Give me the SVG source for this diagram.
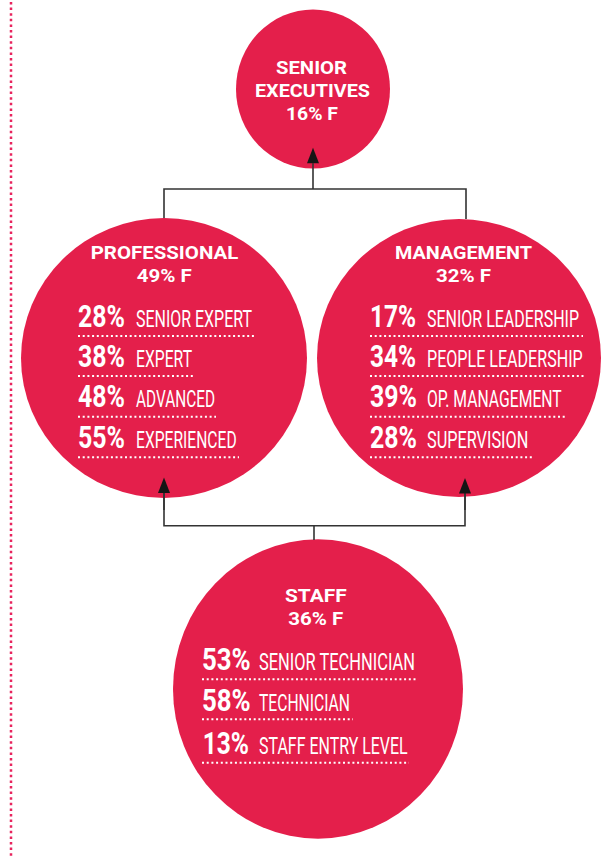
<svg xmlns="http://www.w3.org/2000/svg" width="601" height="856" viewBox="0 0 601 856">
<style>
.node{fill:#E41F4B}
.title{font-family:Roboto,"Liberation Sans",sans-serif;font-weight:700;font-size:18.5px;fill:#fff}
.num{font-family:Roboto,"Liberation Sans",sans-serif;font-weight:700;font-size:30.5px;fill:#fff}
.lab{font-family:Roboto,"Liberation Sans",sans-serif;font-weight:400;font-size:23.5px;fill:#fff}
.dots{stroke:#fff;stroke-width:2;stroke-dasharray:2 2.7;fill:none}
.conn{stroke:#333;stroke-width:1.6;fill:none}
.arr{stroke:#333;stroke-width:1.6;fill:none;marker-end:url(#ah)}
</style>
<defs>
<marker id="ah" markerUnits="userSpaceOnUse" markerWidth="16" markerHeight="12" refX="0" refY="6" orient="auto" overflow="visible">
<path d="M0,0 L15.5,6 L0,12 z" fill="#151515"/>
</marker>
</defs>
<line x1="11" y1="2" x2="11" y2="856" stroke="#E8245E" stroke-width="2.5" stroke-dasharray="2.5 3.1"/>
<g id="senior-executives">
<ellipse class="node" cx="313" cy="89" rx="77" ry="79.5"/>
<text class="title" x="276" y="74" textLength="71" lengthAdjust="spacingAndGlyphs">SENIOR</text>
<text class="title" x="255" y="96.7" textLength="115" lengthAdjust="spacingAndGlyphs">EXECUTIVES</text>
<text class="title" x="286" y="120" textLength="52" lengthAdjust="spacingAndGlyphs">16% F</text>
</g>
<g id="professional">
<ellipse class="node" cx="164" cy="358" rx="143" ry="140"/>
<text class="title" x="90.7" y="259" textLength="147.6" lengthAdjust="spacingAndGlyphs">PROFESSIONAL</text>
<text class="title" x="136.7" y="282" textLength="55" lengthAdjust="spacingAndGlyphs">49% F</text>
<text class="num" x="78" y="326.7" textLength="47" lengthAdjust="spacingAndGlyphs">28%</text>
<text class="lab" x="136" y="326.7" textLength="116" lengthAdjust="spacingAndGlyphs">SENIOR EXPERT</text>
<line class="dots" x1="78" y1="336" x2="254" y2="336"/>
<text class="num" x="78" y="366.7" textLength="47" lengthAdjust="spacingAndGlyphs">38%</text>
<text class="lab" x="136" y="366.7" textLength="56" lengthAdjust="spacingAndGlyphs">EXPERT</text>
<line class="dots" x1="78" y1="376" x2="193" y2="376"/>
<text class="num" x="78" y="406.7" textLength="47" lengthAdjust="spacingAndGlyphs">48%</text>
<text class="lab" x="136" y="406.7" textLength="79" lengthAdjust="spacingAndGlyphs">ADVANCED</text>
<line class="dots" x1="78" y1="416.7" x2="216" y2="416.7"/>
<text class="num" x="78" y="448.3" textLength="47" lengthAdjust="spacingAndGlyphs">55%</text>
<text class="lab" x="136" y="448.3" textLength="100.7" lengthAdjust="spacingAndGlyphs">EXPERIENCED</text>
<line class="dots" x1="78" y1="457.3" x2="239" y2="457.3"/>
</g>
<g id="management">
<ellipse class="node" cx="459" cy="358" rx="142" ry="139"/>
<text class="title" x="395" y="259" textLength="137" lengthAdjust="spacingAndGlyphs">MANAGEMENT</text>
<text class="title" x="436" y="282" textLength="55" lengthAdjust="spacingAndGlyphs">32% F</text>
<text class="num" x="370" y="326.7" textLength="46" lengthAdjust="spacingAndGlyphs">17%</text>
<text class="lab" transform="translate(427,326.7) scale(0.64,1)" x="0" y="0" textLength="237.5" lengthAdjust="spacingAndGlyphs">SENIOR LEADERSHIP</text>
<line class="dots" x1="370" y1="336" x2="583" y2="336"/>
<text class="num" x="370" y="366.7" textLength="46" lengthAdjust="spacingAndGlyphs">34%</text>
<text class="lab" transform="translate(427,366.7) scale(0.64,1)" x="0" y="0" textLength="243.3" lengthAdjust="spacingAndGlyphs">PEOPLE LEADERSHIP</text>
<line class="dots" x1="370" y1="376" x2="586" y2="376"/>
<text class="num" x="370" y="407.3" textLength="47" lengthAdjust="spacingAndGlyphs">39%</text>
<text class="lab" transform="translate(427,407.3) scale(0.64,1)" x="0" y="0" textLength="210.5" lengthAdjust="spacingAndGlyphs">OP. MANAGEMENT</text>
<line class="dots" x1="370" y1="416.7" x2="565" y2="416.7"/>
<text class="num" x="370" y="448.3" textLength="47" lengthAdjust="spacingAndGlyphs">28%</text>
<text class="lab" x="427" y="448.3" textLength="101.3" lengthAdjust="spacingAndGlyphs">SUPERVISION</text>
<line class="dots" x1="370" y1="457.3" x2="532" y2="457.3"/>
</g>
<g id="staff">
<ellipse class="node" cx="318" cy="689" rx="145" ry="149.7"/>
<text class="title" x="285" y="601.7" textLength="61.7" lengthAdjust="spacingAndGlyphs">STAFF</text>
<text class="title" x="288.3" y="625" textLength="55" lengthAdjust="spacingAndGlyphs">36% F</text>
<text class="num" x="202" y="670" textLength="48.7" lengthAdjust="spacingAndGlyphs">53%</text>
<text class="lab" x="259" y="670" textLength="156" lengthAdjust="spacingAndGlyphs">SENIOR TECHNICIAN</text>
<line class="dots" x1="202" y1="679.3" x2="417" y2="679.3"/>
<text class="num" x="202" y="710.7" textLength="48.7" lengthAdjust="spacingAndGlyphs">58%</text>
<text class="lab" x="259" y="710.7" textLength="91" lengthAdjust="spacingAndGlyphs">TECHNICIAN</text>
<line class="dots" x1="202" y1="719.3" x2="353" y2="719.3"/>
<text class="num" x="202.7" y="754" textLength="46.3" lengthAdjust="spacingAndGlyphs">13%</text>
<text class="lab" x="259" y="754" textLength="148.7" lengthAdjust="spacingAndGlyphs">STAFF ENTRY LEVEL</text>
<line class="dots" x1="202" y1="762.7" x2="409" y2="762.7"/>
</g>
<g id="connectors">
<polyline class="conn" points="164,218 164,189 466,189 466,219"/>
<line class="arr" x1="313" y1="189" x2="313" y2="163.3"/>
<polyline class="conn" points="164,493 164,525.7 465,525.7 465,493"/>
<line class="conn" x1="314" y1="525.7" x2="314" y2="540"/>
<line class="arr" x1="164" y1="510" x2="164" y2="493"/>
<line class="arr" x1="465" y1="510" x2="465" y2="493.5"/>
</g>
</svg>
